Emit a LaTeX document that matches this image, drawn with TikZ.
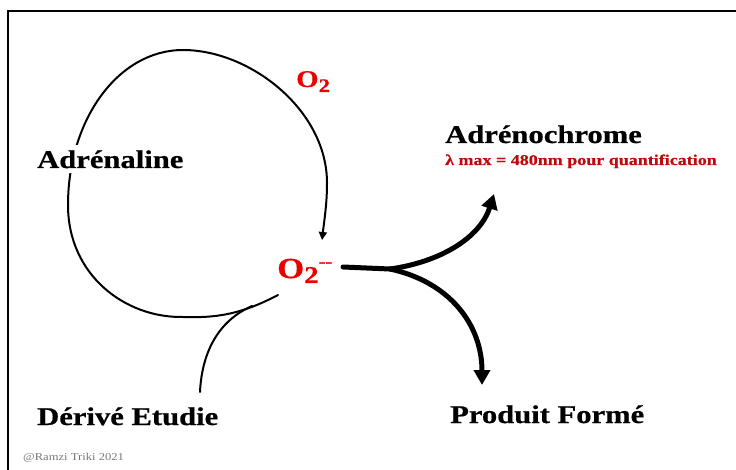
\documentclass[tikz,border=0pt]{standalone}
\usepackage{fontspec}
\setmainfont[FakeStretch=1.2,BoldFeatures={FakeBold=0.6}]{Liberation Serif}
\usetikzlibrary{arrows.meta}
\definecolor{brightred}{RGB}{235,0,0}
\definecolor{darkred}{RGB}{190,10,10}
\definecolor{copygrey}{RGB}{120,120,120}
\begin{document}
\begin{tikzpicture}[x=1pt,y=-1pt,
  lbl/.style={anchor=base west,inner sep=0pt,font=\fontsize{25.5}{28}\selectfont\bfseries},
  thinline/.style={line width=2pt,line cap=round},
  thickline/.style={line width=5pt,line cap=round},
  bigtip/.style={-{Triangle[length=15pt,width=16pt]}},
  smalltip/.style={-{Triangle[length=8pt,width=8pt]}}]
\useasboundingbox (0,0) rectangle (736,470);
\draw[line width=2pt] (8,470) -- (8,11) -- (736,11);

% loop
\coordinate (ls) at (278,295);
\coordinate (lt) at (322,240);
\coordinate (ds) at (200,392);
\coordinate (dj) at (252,306);
\draw[thinline,smalltip] (ls) .. controls (240,315) and (215,318) .. (183,317)
  .. controls (125,318) and (68,275) .. (68,205)
  .. controls (68,120) and (118,50) .. (183,50)
  .. controls (250,50) and (327,110) .. (327,183)
  .. controls (327,205) and (324,222) .. (lt);
\draw[thinline] (ds) .. controls (202,350) and (220,320) .. (dj);

% labels
\node[lbl,fill=white,inner ysep=5pt] (adr) at (37,168) {Adrénaline};
\node[lbl] (adc) at (445,143) {Adrénochrome};
\node[anchor=base west,inner sep=0pt,text=darkred,font=\fontsize{15}{16}\selectfont\bfseries] (lam) at (445,165) {λ max = 480nm pour quantification};
\node[anchor=base west,inner sep=0pt,text=brightred,font=\fontsize{24}{26}\selectfont\bfseries] (o2) at (296,87) {O\raisebox{-5pt}{\fontsize{19}{19}\selectfont 2}};
\node[anchor=base west,inner sep=0pt,text=brightred,font=\fontsize{29}{30}\selectfont\bfseries] (o2m) at (277,278) {O\raisebox{-5pt}{\fontsize{24}{24}\selectfont 2}\raisebox{11pt}{\fontsize{17}{17}\selectfont -{}-}};
\node[lbl] (der) at (37,425) {Dérivé Etudie};
\node[lbl] (prod) at (450,423) {Produit Formé};
\node[anchor=base west,inner sep=0pt,text=copygrey,font=\fontsize{10.5}{12}\selectfont] (copy) at (23,460) {@Ramzi Triki 2021};

% bifurcation
\coordinate (bs) at (343,267);
\coordinate (bj) at (390,269);
\coordinate (bu) at (494,194);
\coordinate (bd) at (482,385);
\draw[thickline] (bs) -- (bj);
\draw[thickline,bigtip] (bj) .. controls (440,262) and (480,238) .. (bu);
\draw[thickline,bigtip] (bj) .. controls (450,282) and (482,325) .. (bd);
\end{tikzpicture}
\end{document}
